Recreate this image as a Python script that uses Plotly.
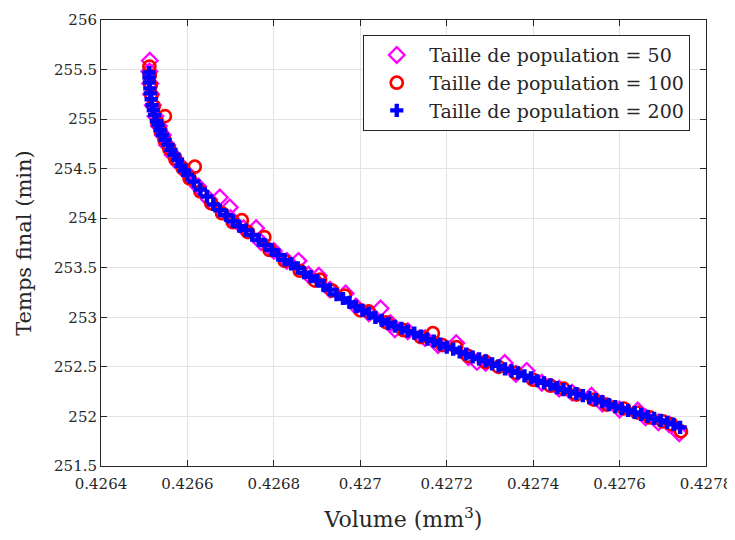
import plotly.graph_objects as go

# Taille de population = 50
vol_50 = [0.426513, 0.426512, 0.426514, 0.426516, 0.426520, 0.426526, 0.426534, 0.426543,
          0.426553, 0.426566, 0.426580, 0.426600, 0.426625, 0.426650, 0.426675, 0.426698,
          0.426700, 0.426730, 0.426759, 0.426770, 0.426800, 0.426830, 0.426857, 0.426880,
          0.426904, 0.426930, 0.426966, 0.426990, 0.427020, 0.427047, 0.427070, 0.427080,
          0.427110, 0.427150, 0.427180, 0.427222, 0.427250, 0.427270, 0.427290, 0.427334,
          0.427360, 0.427385, 0.427420, 0.427460, 0.427490, 0.427535, 0.427560, 0.427600,
          0.427642, 0.427660, 0.427690, 0.427715, 0.427738]
temps_50 = [255.59, 255.48, 255.36, 255.25, 255.14, 255.03, 254.93, 254.84,
            254.74, 254.64, 254.55, 254.45, 254.32, 254.19, 254.21, 254.11,
            254.00, 253.90, 253.90, 253.76, 253.67, 253.57, 253.57, 253.43,
            253.42, 253.28, 253.24, 253.11, 253.04, 253.09, 252.94, 252.88,
            252.86, 252.79, 252.72, 252.74, 252.60, 252.55, 252.54, 252.54,
            252.43, 252.46, 252.34, 252.28, 252.24, 252.21, 252.13, 252.07,
            252.06, 251.99, 251.94, 251.92, 251.83]

# Taille de population = 100
vol_100 = [0.426512, 0.426513, 0.426515, 0.426517, 0.426522, 0.426548, 0.426530, 0.426538,
           0.426547, 0.426558, 0.426572, 0.426590, 0.426617, 0.426605, 0.426630, 0.426655,
           0.426680, 0.426705, 0.426726, 0.426740, 0.426778, 0.426790, 0.426825, 0.426860,
           0.426907, 0.426895, 0.426935, 0.426964, 0.427000, 0.427019, 0.427060, 0.427100,
           0.427140, 0.427168, 0.427190, 0.427222, 0.427250, 0.427290, 0.427320, 0.427360,
           0.427400, 0.427440, 0.427470, 0.427500, 0.427540, 0.427570, 0.427610, 0.427640,
           0.427670, 0.427700, 0.427720, 0.427742]
temps_100 = [255.53, 255.44, 255.34, 255.24, 255.13, 255.03, 254.97, 254.88,
             254.79, 254.70, 254.60, 254.50, 254.52, 254.40, 254.27, 254.15,
             254.05, 253.96, 253.98, 253.86, 253.81, 253.68, 253.57, 253.47,
             253.38, 253.37, 253.27, 253.22, 253.07, 253.06, 252.95, 252.87,
             252.80, 252.84, 252.72, 252.70, 252.61, 252.55, 252.50, 252.44,
             252.37, 252.31, 252.28, 252.22, 252.17, 252.12, 252.08, 252.04,
             251.99, 251.95, 251.92, 251.85]

# Taille de population = 200
vol_200 = [0.426511, 0.426511, 0.426512, 0.426513, 0.426514, 0.426516, 0.426518, 0.426521,
           0.426524, 0.426528, 0.426532, 0.426537, 0.426542, 0.426548, 0.426555, 0.426562,
           0.426569, 0.426577, 0.426585, 0.426593,
           0.426600, 0.426615, 0.426630, 0.426645, 0.426660, 0.426675, 0.426690, 0.426705,
           0.426720, 0.426735, 0.426750, 0.426765, 0.426780, 0.426795, 0.426810, 0.426825,
           0.426840, 0.426855, 0.426870, 0.426885, 0.426900, 0.426915, 0.426930, 0.426945,
           0.426960, 0.426975, 0.426990, 0.427005, 0.427020, 0.427035, 0.427050, 0.427065,
           0.427080, 0.427095, 0.427110, 0.427125, 0.427140, 0.427155, 0.427170, 0.427185,
           0.427200, 0.427215, 0.427230, 0.427245, 0.427260, 0.427275, 0.427290, 0.427305,
           0.427320, 0.427335, 0.427350, 0.427365, 0.427380, 0.427395, 0.427410, 0.427425,
           0.427440, 0.427455, 0.427470, 0.427485, 0.427500, 0.427515, 0.427530, 0.427545,
           0.427560, 0.427575, 0.427590, 0.427605, 0.427620, 0.427635, 0.427650, 0.427665,
           0.427680, 0.427695, 0.427710, 0.427725, 0.427740]
temps_200 = [255.47, 255.42, 255.37, 255.31, 255.26, 255.20, 255.14, 255.09,
             255.04, 254.98, 254.94, 254.89, 254.84, 254.79, 254.74, 254.69,
             254.64, 254.59, 254.53, 254.48,
             254.44, 254.37, 254.29, 254.22, 254.14, 254.08, 254.03, 253.97,
             253.92, 253.88, 253.83, 253.78, 253.73, 253.68, 253.63, 253.58,
             253.54, 253.50, 253.45, 253.41, 253.37, 253.32, 253.28, 253.23,
             253.19, 253.15, 253.11, 253.07, 253.04, 253.00, 252.97, 252.94,
             252.91, 252.89, 252.86, 252.84, 252.81, 252.78, 252.76, 252.73,
             252.70, 252.68, 252.65, 252.63, 252.60, 252.58, 252.56, 252.53,
             252.51, 252.48, 252.46, 252.44, 252.41, 252.39, 252.36, 252.34,
             252.32, 252.29, 252.27, 252.25, 252.23, 252.21, 252.19, 252.17,
             252.15, 252.12, 252.10, 252.08, 252.06, 252.04, 252.02, 252.00,
             251.98, 251.96, 251.94, 251.92, 251.89]

x_ticks = [0.4264, 0.4266, 0.4268, 0.4270, 0.4272, 0.4274, 0.4276, 0.4278]
x_labels = ["0.4264", "0.4266", "0.4268", "0.427", "0.4272", "0.4274", "0.4276", "0.4278"]
y_ticks = [251.5, 252, 252.5, 253, 253.5, 254, 254.5, 255, 255.5, 256]
y_labels = ["251.5", "252", "252.5", "253", "253.5", "254", "254.5", "255", "255.5", "256"]

police = "DejaVu Serif, Liberation Serif, serif"
encre = "#262626"

fig = go.Figure()
fig.add_trace(go.Scatter(
    x=vol_50, y=temps_50, mode="markers", name="Taille de population = 50",
    marker=dict(symbol="diamond-open", size=12, color="#ff00ff", line=dict(width=2.3, color="#ff00ff"))
))
fig.add_trace(go.Scatter(
    x=vol_100, y=temps_100, mode="markers", name="Taille de population = 100",
    marker=dict(symbol="circle-open", size=12, color="#ff0000", line=dict(width=2.7, color="#ff0000"))
))
fig.add_trace(go.Scatter(
    x=vol_200, y=temps_200, mode="markers", name="Taille de population = 200",
    marker=dict(symbol="cross", size=11, color="#0000ff", line=dict(width=0))
))

axe = dict(
    showline=True, linecolor=encre, linewidth=1, mirror="ticks",
    ticks="inside", ticklen=6, tickcolor=encre, automargin=False,
    ticklabeloverflow="allow",
    showgrid=True, gridcolor="#e3e3e3", gridwidth=1,
    zeroline=False, tickfont=dict(family=police, size=15, color=encre),
)

# la page ajoute 8 px de marge autour de la figure : on la garde sans barre de défilement
fig.update_layout(
    width=727, height=524,
    margin=dict(l=93, r=29, t=12, b=66),
    paper_bgcolor="white", plot_bgcolor="white",
    font=dict(family=police, color=encre),
    xaxis=dict(axe, range=[0.4264, 0.4278], tickvals=x_ticks, ticktext=x_labels,
               ticklabelstandoff=4,
               title=dict(text="Volume (mm<sup>3</sup>)", font=dict(family=police, size=22, color=encre), standoff=20)),
    yaxis=dict(axe, range=[251.5, 256], tickvals=y_ticks, ticktext=y_labels,
               title=dict(text="Temps final (min)", font=dict(family=police, size=21, color=encre), standoff=16)),
    legend=dict(
        x=0.974, y=0.966, xanchor="right", yanchor="top",
        bgcolor="white", bordercolor=encre, borderwidth=1,
        font=dict(family=police, size=19, color=encre),
        itemwidth=55, tracegroupgap=0,
    ),
)

fig.write_html("out.html")
